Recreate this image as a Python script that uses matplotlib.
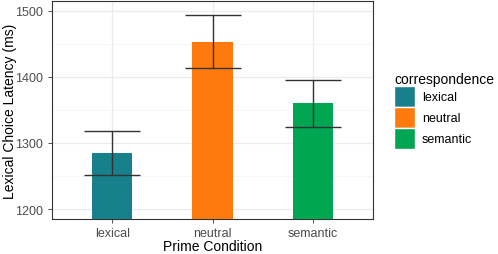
import matplotlib.pyplot as plt
import numpy as np
from matplotlib.patches import Patch

plt.rcParams['font.family'] = ['Liberation Sans', 'DejaVu Sans']

conditions = ["lexical", "neutral", "semantic"]
means = [1285, 1453, 1360]
upper = [1318.5, 1493, 1395]
lower = [1252, 1413, 1323.5]
colors = ["#17808A", "#FF7A0E", "#00A651"]

fig = plt.figure(figsize=(4.98, 2.55), dpi=100)
ax = fig.add_axes([52 / 498, 1 - 220 / 255, 321 / 498, 218 / 255])

x = np.arange(1, len(conditions) + 1)
ax.bar(x, np.array(means) - 1100, bottom=1100, width=0.4, color=colors, zorder=3)
ax.errorbar(x, means, yerr=[np.array(means) - np.array(lower), np.array(upper) - np.array(means)],
            fmt="none", ecolor="#333333", elinewidth=1.0, capsize=20, capthick=1.0, zorder=4)

ax.set_xlim(0.4, 3.6)
ax.set_ylim(1185, 1514.7)
ax.set_xticks(x)
ax.set_xticklabels(conditions)
ax.set_yticks([1200, 1300, 1400, 1500])
ax.set_yticks([1250, 1350, 1450], minor=True)
ax.grid(which="major", color="#EBEBEB", linewidth=0.9, zorder=0)
ax.grid(which="minor", axis="y", color="#F3F3F3", linewidth=0.5, zorder=0)
ax.tick_params(axis="both", labelsize=9, labelcolor="#4D4D4D", color="#333333", length=3, width=0.6)
ax.tick_params(axis="x", pad=2.5)
ax.tick_params(which="minor", length=0)
for s in ax.spines.values():
    s.set_color("#333333")
    s.set_linewidth(0.8)

ax.set_xlabel("Prime Condition", fontsize=10, labelpad=0)
ax.set_ylabel("Lexical Choice Latency (ms)", fontsize=10)
ax.yaxis.set_label_coords(-35 / 321, 0.5)

handles = [Patch(facecolor=c, edgecolor="white", linewidth=1.0) for c in colors]
leg = fig.legend(handles, conditions, title="correspondence", loc="upper left",
                 bbox_to_anchor=(389 / 498, 1 - 68 / 255), frameon=False,
                 fontsize=9, title_fontsize=10, handlelength=1.7, handleheight=2.2,
                 handletextpad=0.55, labelspacing=0.0, borderaxespad=0)
leg._legend_box.align = "left"

fig.savefig("out.png", dpi=100)
